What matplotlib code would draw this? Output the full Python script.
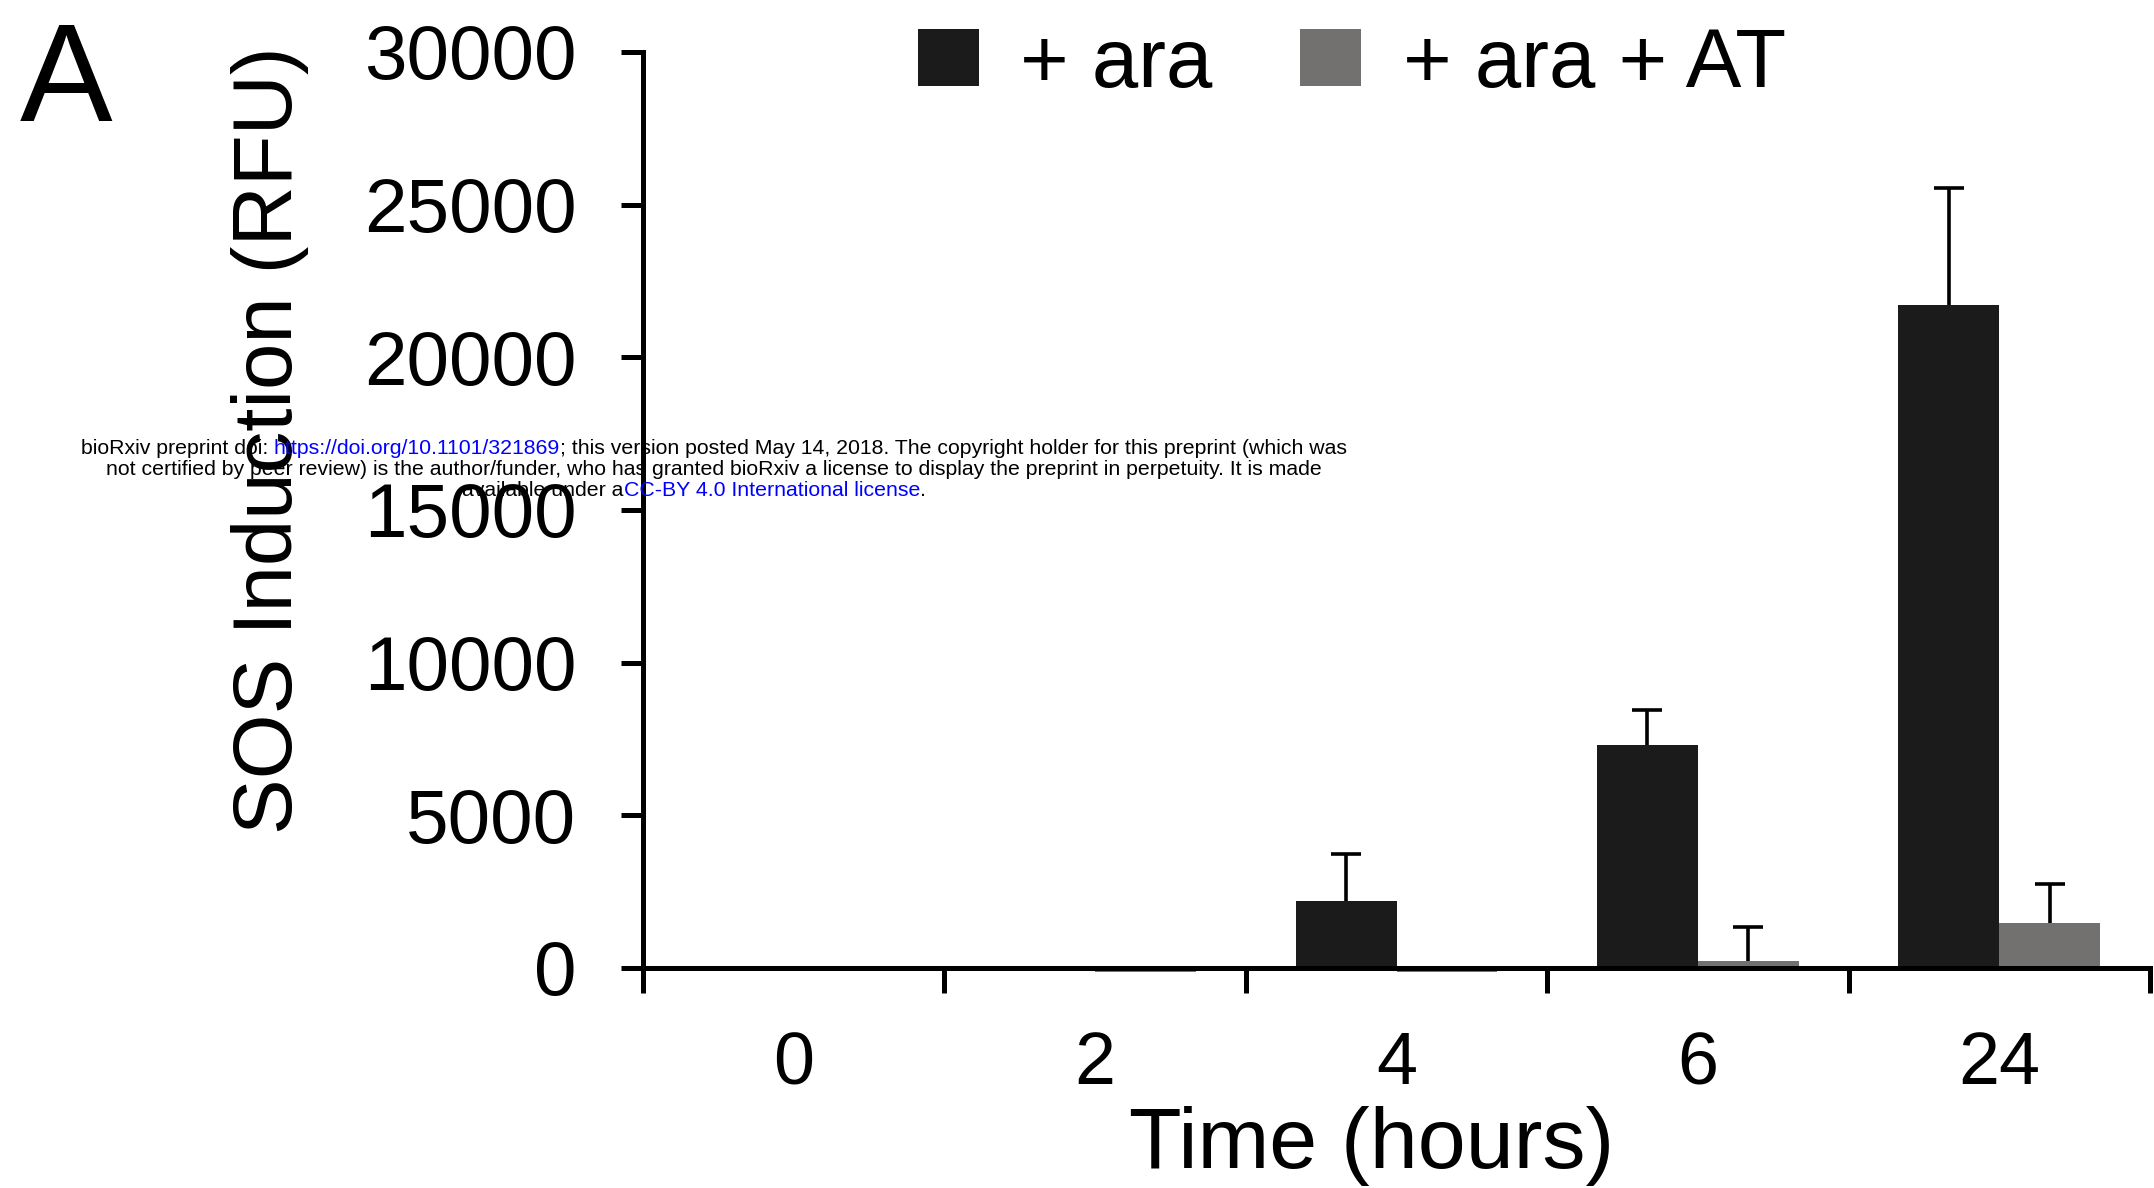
import matplotlib
matplotlib.use("Agg")
import matplotlib.pyplot as plt
from matplotlib.patches import Patch
import numpy as np

plt.rcParams["font.family"] = ["Liberation Sans", "DejaVu Sans"]

# data
time_labels = ["0", "2", "4", "6", "24"]
ara_mean = [0, 0, 2200, 7300, 21700]
ara_err = [0, 0, 1530, 1130, 3830]
ara_at_mean = [0, -150, -150, 220, 1480]
ara_at_err = [0, 0, 0, 1130, 1260]

series_labels = ["+ ara", "+ ara + AT"]
black = "#1b1b1b"
grey = "#737070"

W, H, DPI = 2154, 1188, 100
fig = plt.figure(figsize=(W / DPI, H / DPI), dpi=DPI)
ax = fig.add_axes([643 / W, 1 - 980 / H, (2150 - 643) / W, (980 - 52) / H])

x = np.arange(len(time_labels))
bw = 0.335
ax.bar(x - bw / 2, ara_mean, bw, color=black, zorder=2)
ax.bar(x + bw / 2, ara_at_mean, bw, color=grey, zorder=2)

# upper-only error bars (no cap at the bar top)
for xs, m, e in ((x - bw / 2, ara_mean, ara_err), (x + bw / 2, ara_at_mean, ara_at_err)):
    idx = [i for i, v in enumerate(e) if v > 0]
    _, caps, _ = ax.errorbar(xs[idx], np.array(m)[idx],
                             yerr=[np.zeros(len(idx)), np.array(e)[idx]],
                             fmt="none", ecolor="black", elinewidth=2.6,
                             capsize=11, capthick=2.6, zorder=3)
    caps[0].set_visible(False)

ax.set_xlim(-0.5, len(time_labels) - 0.5)
ax.set_ylim(-400, 30000)
ax.spines["right"].set_visible(False)
ax.spines["top"].set_visible(False)
ax.spines["bottom"].set_position(("data", 0))
ax.spines["left"].set_bounds(0, 30000)
for s in ("left", "bottom"):
    ax.spines[s].set_linewidth(3.6)
    ax.spines[s].set_zorder(4)

ax.set_yticks(np.arange(0, 30001, 5000))
ax.tick_params(axis="y", labelsize=55, length=16, width=3.6, pad=32)
ax.set_xticks(x)
ax.set_xticklabels(time_labels)
ax.set_xticks(np.arange(-0.5, len(time_labels)), minor=True)
ax.tick_params(axis="x", which="major", length=0, labelsize=53, pad=45)
ax.tick_params(axis="x", which="minor", length=18, width=3.6)

fig.text(270 / W, 1 - 440 / H, "SOS Induction (RFU)", rotation=90,
         ha="center", va="center", fontsize=60)
fig.text(1372 / W, 1 - 1168 / H, "Time (hours)", ha="center",
         va="baseline", fontsize=62)
fig.text(20 / W, 1 - 121 / H, "A", ha="left", va="baseline", fontsize=100)

handles = [Patch(facecolor=black, edgecolor="none"),
           Patch(facecolor=grey, edgecolor="none")]
fig.legend(handles, series_labels, loc="center left",
           bbox_to_anchor=(918 / W, 1 - 65 / H), ncol=2, frameon=False,
           fontsize=60, handlelength=0.73, handleheight=0.67,
           handletextpad=0.5, columnspacing=1.05, borderpad=0,
           borderaxespad=0)

# preprint watermark laid over the chart
blue = "#0000ff"
wm_lines = [
    [("bioRxiv preprint doi: ", "black"),
     ("https://doi.org/10.1101/321869", blue),
     ("; this version posted May 14, 2018. The copyright holder for this preprint (which was", "black")],
    [("not certified by peer review) is the author/funder, who has granted bioRxiv a license to display the preprint in perpetuity. It is made", "black")],
    [("available under a", "black"),
     ("CC-BY 4.0 International license", blue),
     (".", "black")],
]
wm_y = [449, 470, 490]
wm_cx = [714, 714, 694]
renderer = fig.canvas.get_renderer()
for parts, yy, cx in zip(wm_lines, wm_y, wm_cx):
    texts = [fig.text(0, 1 - yy / H, s, color=c, fontsize=15.3, ha="left",
                      va="center", zorder=10) for s, c in parts]
    widths = [t.get_window_extent(renderer).width for t in texts]
    x0 = cx - sum(widths) / 2
    for t, w in zip(texts, widths):
        t.set_x(x0 / W)
        x0 += w

fig.savefig("out.png", dpi=DPI)
